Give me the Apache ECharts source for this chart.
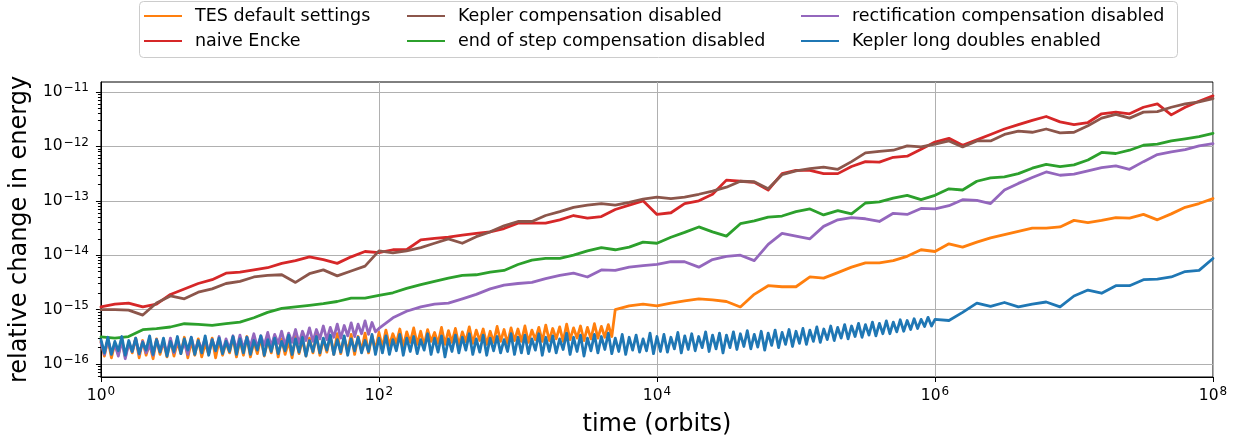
<!DOCTYPE html>
<html>
<head>
<meta charset="utf-8">
<script src="https://cdn.jsdelivr.net/npm/echarts@6/dist/echarts.min.js"></script>
<style>
html,body{margin:0;padding:0;background:#fff;}
#c{width:1241px;height:444px;}
</style>
</head>
<body>
<div id="c"></div>
<script>
// time (orbits), coarse samples every 0.1 decade
const timeOrbits = [
  1, 1.26, 1.58, 2, 2.51, 3.16, 3.98, 5.01, 6.31, 7.94,
  10, 12.6, 15.8, 20, 25.1, 31.6, 39.8, 50.1, 63.1, 79.4,
  100, 126, 158, 200, 251, 316, 398, 501, 631, 794,
  1e3, 1.26e3, 1.58e3, 2e3, 2.51e3, 3.16e3, 3.98e3, 5.01e3, 6.31e3, 7.94e3,
  1e4, 1.26e4, 1.58e4, 2e4, 2.51e4, 3.16e4, 3.98e4, 5.01e4, 6.31e4, 7.94e4,
  1e5, 1.26e5, 1.58e5, 2e5, 2.51e5, 3.16e5, 3.98e5, 5.01e5, 6.31e5, 7.94e5,
  1e6, 1.26e6, 1.58e6, 2e6, 2.51e6, 3.16e6, 3.98e6, 5.01e6, 6.31e6, 7.94e6,
  1e7, 1.26e7, 1.58e7, 2e7, 2.51e7, 3.16e7, 3.98e7, 5.01e7, 6.31e7, 7.94e7,
  1e8
];

// time (orbits), fine samples every 0.025 decade (for the noisy bands), 1 .. 1e6
const timeFine = [
  1e0,1.059e0,1.122e0,1.189e0,1.259e0,1.334e0,1.413e0,1.496e0,1.585e0,1.679e0,1.778e0,1.884e0,1.995e0,2.113e0,2.239e0,2.371e0,2.512e0,2.661e0,2.818e0,2.985e0,3.162e0,3.350e0,3.548e0,3.758e0,3.981e0,4.217e0,4.467e0,4.732e0,5.012e0,5.309e0,5.623e0,5.957e0,6.310e0,6.683e0,7.079e0,7.499e0,7.943e0,8.414e0,8.913e0,9.441e0,
  1e1,1.059e1,1.122e1,1.189e1,1.259e1,1.334e1,1.413e1,1.496e1,1.585e1,1.679e1,1.778e1,1.884e1,1.995e1,2.113e1,2.239e1,2.371e1,2.512e1,2.661e1,2.818e1,2.985e1,3.162e1,3.350e1,3.548e1,3.758e1,3.981e1,4.217e1,4.467e1,4.732e1,5.012e1,5.309e1,5.623e1,5.957e1,6.310e1,6.683e1,7.079e1,7.499e1,7.943e1,8.414e1,8.913e1,9.441e1,
  1e2,1.059e2,1.122e2,1.189e2,1.259e2,1.334e2,1.413e2,1.496e2,1.585e2,1.679e2,1.778e2,1.884e2,1.995e2,2.113e2,2.239e2,2.371e2,2.512e2,2.661e2,2.818e2,2.985e2,3.162e2,3.350e2,3.548e2,3.758e2,3.981e2,4.217e2,4.467e2,4.732e2,5.012e2,5.309e2,5.623e2,5.957e2,6.310e2,6.683e2,7.079e2,7.499e2,7.943e2,8.414e2,8.913e2,9.441e2,
  1e3,1.059e3,1.122e3,1.189e3,1.259e3,1.334e3,1.413e3,1.496e3,1.585e3,1.679e3,1.778e3,1.884e3,1.995e3,2.113e3,2.239e3,2.371e3,2.512e3,2.661e3,2.818e3,2.985e3,3.162e3,3.350e3,3.548e3,3.758e3,3.981e3,4.217e3,4.467e3,4.732e3,5.012e3,5.309e3,5.623e3,5.957e3,6.310e3,6.683e3,7.079e3,7.499e3,7.943e3,8.414e3,8.913e3,9.441e3,
  1e4,1.059e4,1.122e4,1.189e4,1.259e4,1.334e4,1.413e4,1.496e4,1.585e4,1.679e4,1.778e4,1.884e4,1.995e4,2.113e4,2.239e4,2.371e4,2.512e4,2.661e4,2.818e4,2.985e4,3.162e4,3.350e4,3.548e4,3.758e4,3.981e4,4.217e4,4.467e4,4.732e4,5.012e4,5.309e4,5.623e4,5.957e4,6.310e4,6.683e4,7.079e4,7.499e4,7.943e4,8.414e4,8.913e4,9.441e4,
  1e5,1.059e5,1.122e5,1.189e5,1.259e5,1.334e5,1.413e5,1.496e5,1.585e5,1.679e5,1.778e5,1.884e5,1.995e5,2.113e5,2.239e5,2.371e5,2.512e5,2.661e5,2.818e5,2.985e5,3.162e5,3.350e5,3.548e5,3.758e5,3.981e5,4.217e5,4.467e5,4.732e5,5.012e5,5.309e5,5.623e5,5.957e5,6.310e5,6.683e5,7.079e5,7.499e5,7.943e5,8.414e5,8.913e5,9.441e5,
  1e6
];

// ---- TES default settings (orange) ----
const tesDefaultFine = [ // on timeFine, 1 .. 10^3.675
  2.6e-16,1.4e-16,2.9e-16,1.3e-16,2.4e-16,1.5e-16,2.8e-16,1.35e-16,2.5e-16,1.6e-16,3.0e-16,1.3e-16,2.7e-16,1.45e-16,2.4e-16,1.25e-16,2.9e-16,1.5e-16,2.6e-16,1.35e-16,
  2.8e-16,1.4e-16,2.5e-16,1.55e-16,3.1e-16,1.3e-16,2.6e-16,1.45e-16,2.9e-16,1.35e-16,2.4e-16,1.5e-16,3.0e-16,1.3e-16,2.7e-16,1.45e-16,2.5e-16,1.6e-16,3.1e-16,1.35e-16,
  2.8e-16,1.45e-16,3.2e-16,1.35e-16,2.6e-16,1.55e-16,3.0e-16,1.4e-16,2.7e-16,1.6e-16,3.3e-16,1.35e-16,2.9e-16,1.5e-16,2.6e-16,1.3e-16,3.2e-16,1.55e-16,2.8e-16,1.4e-16,
  3.0e-16,1.6e-16,3.4e-16,1.45e-16,2.9e-16,1.65e-16,3.3e-16,1.5e-16,3.6e-16,1.55e-16,3.1e-16,1.7e-16,3.5e-16,1.5e-16,3.2e-16,1.75e-16,3.7e-16,1.6e-16,3.3e-16,1.8e-16,
  3.8e-16,2.0e-16,4.2e-16,2.2e-16,3.6e-16,2.4e-16,4.4e-16,2.1e-16,3.9e-16,2.5e-16,4.6e-16,2.3e-16,4.0e-16,2.2e-16,4.3e-16,2.6e-16,3.8e-16,2.4e-16,4.7e-16,2.3e-16,
  4.1e-16,2.5e-16,4.5e-16,2.2e-16,3.9e-16,2.6e-16,4.8e-16,2.4e-16,4.2e-16,2.7e-16,4.4e-16,2.3e-16,4.0e-16,2.5e-16,4.9e-16,2.6e-16,4.3e-16,2.4e-16,4.6e-16,2.7e-16,
  4.4e-16,2.6e-16,5.0e-16,2.5e-16,4.2e-16,2.8e-16,4.7e-16,2.6e-16,5.2e-16,2.7e-16,4.5e-16,2.9e-16,4.8e-16,2.6e-16,5.4e-16,2.8e-16,4.6e-16,3.0e-16,5.0e-16,2.7e-16,
  4.7e-16,2.9e-16,5.5e-16,3.0e-16,4.9e-16,3.1e-16,5.3e-16,3.2e-16
];
const tesDefault = [ // on timeOrbits (null where the fine samples are used)
  null, null, null, null, null, null, null, null, null, null,
  null, null, null, null, null, null, null, null, null, null,
  null, null, null, null, null, null, null, null, null, null,
  null, null, null, null, null, null, null, 1.00e-15, 1.17e-15, 1.26e-15,
  1.17e-15, 1.32e-15, 1.45e-15, 1.58e-15, 1.51e-15, 1.41e-15, 1.12e-15, 1.91e-15, 2.75e-15, 2.63e-15,
  2.63e-15, 3.98e-15, 3.80e-15, 4.79e-15, 6.03e-15, 7.24e-15, 7.24e-15, 7.94e-15, 9.55e-15, 1.26e-14,
  1.17e-14, 1.62e-14, 1.41e-14, 1.74e-14, 2.09e-14, 2.40e-14, 2.75e-14, 3.16e-14, 3.16e-14, 3.31e-14,
  4.37e-14, 3.98e-14, 4.37e-14, 4.90e-14, 4.79e-14, 5.62e-14, 4.47e-14, 5.75e-14, 7.59e-14, 8.91e-14,
  1.10e-13
];

// ---- naive Encke (red) ----
const naiveEncke = [
  1.12e-15, 1.26e-15, 1.32e-15, 1.12e-15, 1.26e-15, 1.90e-15, 2.40e-15, 3.02e-15, 3.55e-15, 4.68e-15,
  4.90e-15, 5.37e-15, 5.89e-15, 7.08e-15, 7.94e-15, 9.33e-15, 8.32e-15, 7.08e-15, 9.33e-15, 1.17e-14,
  1.12e-14, 1.26e-14, 1.26e-14, 1.91e-14, 2.04e-14, 2.14e-14, 2.34e-14, 2.51e-14, 2.69e-14, 3.09e-14,
  3.89e-14, 3.89e-14, 3.89e-14, 4.47e-14, 5.37e-14, 4.79e-14, 5.13e-14, 6.92e-14, 8.32e-14, 1.00e-13,
  5.62e-14, 6.03e-14, 8.91e-14, 1.00e-13, 1.32e-13, 2.40e-13, 2.29e-13, 2.19e-13, 1.58e-13, 3.16e-13,
  3.63e-13, 3.63e-13, 3.16e-13, 3.16e-13, 4.27e-13, 5.25e-13, 5.13e-13, 6.31e-13, 6.61e-13, 8.91e-13,
  1.20e-12, 1.41e-12, 1.05e-12, 1.32e-12, 1.66e-12, 2.09e-12, 2.51e-12, 3.02e-12, 3.55e-12, 2.82e-12,
  2.51e-12, 2.75e-12, 3.98e-12, 4.27e-12, 3.98e-12, 5.25e-12, 6.03e-12, 3.80e-12, 5.25e-12, 6.76e-12,
  8.51e-12
];

// ---- Kepler compensation disabled (brown) ----
const keplerCompDisabled = [
  1.00e-15, 1.00e-15, 9.80e-16, 7.94e-16, 1.32e-15, 1.78e-15, 1.58e-15, 2.09e-15, 2.40e-15, 3.02e-15,
  3.31e-15, 3.98e-15, 4.27e-15, 4.37e-15, 3.16e-15, 4.57e-15, 5.37e-15, 4.17e-15, 5.13e-15, 6.31e-15,
  1.20e-14, 1.10e-14, 1.20e-14, 1.38e-14, 1.66e-14, 2.00e-14, 1.66e-14, 2.19e-14, 2.69e-14, 3.47e-14,
  4.17e-14, 4.17e-14, 5.37e-14, 6.31e-14, 7.59e-14, 8.32e-14, 8.91e-14, 8.32e-14, 9.33e-14, 1.07e-13,
  1.17e-13, 1.10e-13, 1.17e-13, 1.32e-13, 1.51e-13, 1.78e-13, 2.29e-13, 2.24e-13, 1.66e-13, 3.02e-13,
  3.55e-13, 3.89e-13, 4.17e-13, 3.80e-13, 5.25e-13, 7.59e-13, 8.13e-13, 8.51e-13, 1.02e-12, 9.77e-13,
  1.10e-12, 1.26e-12, 9.77e-13, 1.26e-12, 1.26e-12, 1.66e-12, 1.91e-12, 1.82e-12, 2.09e-12, 1.78e-12,
  1.82e-12, 2.40e-12, 3.31e-12, 3.89e-12, 3.31e-12, 4.27e-12, 4.37e-12, 5.25e-12, 6.03e-12, 6.61e-12,
  7.59e-12
];

// ---- end of step compensation disabled (green) ----
const endOfStepCompDisabled = [
  3.16e-16, 3.00e-16, 3.20e-16, 4.27e-16, 4.47e-16, 4.79e-16, 5.50e-16, 5.37e-16, 5.13e-16, 5.50e-16,
  5.89e-16, 7.08e-16, 8.91e-16, 1.05e-15, 1.12e-15, 1.20e-15, 1.29e-15, 1.41e-15, 1.62e-15, 1.62e-15,
  1.82e-15, 2.04e-15, 2.45e-15, 2.88e-15, 3.31e-15, 3.80e-15, 4.27e-15, 4.37e-15, 4.90e-15, 5.25e-15,
  6.76e-15, 8.13e-15, 8.71e-15, 8.71e-15, 1.00e-14, 1.20e-14, 1.38e-14, 1.26e-14, 1.41e-14, 1.74e-14,
  1.66e-14, 2.14e-14, 2.63e-14, 3.31e-14, 2.69e-14, 2.24e-14, 3.80e-14, 4.27e-14, 5.01e-14, 5.25e-14,
  6.31e-14, 7.08e-14, 5.50e-14, 6.61e-14, 5.75e-14, 9.12e-14, 9.55e-14, 1.12e-13, 1.26e-13, 1.05e-13,
  1.26e-13, 1.66e-13, 1.58e-13, 2.29e-13, 2.63e-13, 2.75e-13, 3.16e-13, 3.98e-13, 4.68e-13, 4.27e-13,
  4.57e-13, 5.62e-13, 7.76e-13, 7.41e-13, 8.51e-13, 1.05e-12, 1.10e-12, 1.26e-12, 1.38e-12, 1.51e-12,
  1.74e-12
];

// ---- rectification compensation disabled (purple) ----
const rectCompDisabledFine = [ // on timeFine, 1 .. 100
  2.5e-16,1.5e-16,2.8e-16,1.6e-16,2.3e-16,1.4e-16,2.7e-16,1.25e-16,2.4e-16,1.7e-16,2.9e-16,1.5e-16,2.6e-16,1.6e-16,2.2e-16,1.45e-16,2.8e-16,1.7e-16,2.5e-16,1.55e-16,
  3.0e-16,1.6e-16,2.7e-16,1.8e-16,2.4e-16,1.5e-16,3.1e-16,1.7e-16,2.6e-16,1.9e-16,3.0e-16,1.6e-16,2.8e-16,1.75e-16,3.2e-16,1.65e-16,2.9e-16,1.9e-16,3.3e-16,1.8e-16,
  3.4e-16,1.9e-16,3.1e-16,2.1e-16,3.6e-16,2.0e-16,3.3e-16,2.2e-16,3.8e-16,2.1e-16,3.5e-16,2.4e-16,4.0e-16,2.2e-16,3.7e-16,2.5e-16,4.3e-16,2.4e-16,4.0e-16,2.7e-16,
  4.6e-16,2.6e-16,4.3e-16,2.9e-16,5.0e-16,2.8e-16,4.7e-16,3.1e-16,5.4e-16,3.0e-16,5.1e-16,3.3e-16,5.7e-16,3.2e-16,5.4e-16,3.6e-16,6.2e-16,3.5e-16,5.8e-16,3.9e-16,
  4.5e-16
];
const rectCompDisabled = [ // on timeOrbits
  null, null, null, null, null, null, null, null, null, null,
  null, null, null, null, null, null, null, null, null, null,
  null, 7.08e-16, 9.33e-16, 1.12e-15, 1.26e-15, 1.32e-15, 1.58e-15, 1.91e-15, 2.40e-15, 2.82e-15,
  3.02e-15, 3.16e-15, 3.72e-15, 4.27e-15, 4.68e-15, 3.98e-15, 5.37e-15, 5.25e-15, 6.03e-15, 6.46e-15,
  6.76e-15, 7.59e-15, 7.59e-15, 6.03e-15, 8.32e-15, 9.55e-15, 1.00e-14, 7.94e-15, 1.58e-14, 2.51e-14,
  2.24e-14, 2.00e-14, 3.39e-14, 4.47e-14, 4.90e-14, 4.68e-14, 4.17e-14, 5.89e-14, 5.62e-14, 7.24e-14,
  7.08e-14, 8.13e-14, 1.05e-13, 1.02e-13, 8.91e-14, 1.58e-13, 2.09e-13, 2.69e-13, 3.39e-13, 2.95e-13,
  3.09e-13, 3.55e-13, 4.07e-13, 4.37e-13, 3.80e-13, 5.25e-13, 7.08e-13, 7.94e-13, 8.71e-13, 1.02e-12,
  1.12e-12
];

// ---- Kepler long doubles enabled (blue) ----
const keplerLongDoublesFine = [ // on timeFine, 1 .. 1e6
  2.8e-16,1.6e-16,3.1e-16,1.5e-16,2.6e-16,1.75e-16,3.2e-16,1.45e-16,2.7e-16,1.7e-16,3.0e-16,1.55e-16,2.5e-16,1.8e-16,3.3e-16,1.5e-16,2.8e-16,1.65e-16,3.0e-16,1.4e-16,
  2.6e-16,1.7e-16,3.2e-16,1.55e-16,2.9e-16,1.8e-16,3.1e-16,1.5e-16,2.7e-16,1.6e-16,3.3e-16,1.45e-16,2.8e-16,1.75e-16,3.0e-16,1.55e-16,2.6e-16,1.7e-16,3.2e-16,1.5e-16,
  2.9e-16,1.6e-16,3.1e-16,1.5e-16,2.7e-16,1.8e-16,3.3e-16,1.45e-16,2.8e-16,1.7e-16,3.0e-16,1.55e-16,2.6e-16,1.75e-16,3.4e-16,1.5e-16,2.9e-16,1.65e-16,3.1e-16,1.4e-16,
  2.7e-16,1.7e-16,3.2e-16,1.6e-16,3.0e-16,1.8e-16,3.4e-16,1.5e-16,2.8e-16,1.65e-16,3.3e-16,1.45e-16,2.9e-16,1.75e-16,3.1e-16,1.6e-16,2.7e-16,1.7e-16,3.5e-16,1.5e-16,
  3.0e-16,1.6e-16,3.3e-16,1.5e-16,2.8e-16,1.75e-16,3.5e-16,1.45e-16,3.0e-16,1.7e-16,3.2e-16,1.55e-16,2.8e-16,1.8e-16,3.6e-16,1.5e-16,3.0e-16,1.65e-16,3.3e-16,1.35e-16,
  2.9e-16,1.7e-16,3.4e-16,1.6e-16,3.1e-16,1.8e-16,3.6e-16,1.5e-16,2.9e-16,1.65e-16,3.4e-16,1.45e-16,3.0e-16,1.75e-16,3.2e-16,1.6e-16,2.8e-16,1.7e-16,3.6e-16,1.5e-16,
  3.1e-16,1.6e-16,3.4e-16,1.55e-16,2.9e-16,1.8e-16,3.6e-16,1.45e-16,3.1e-16,1.7e-16,3.3e-16,1.6e-16,2.9e-16,1.85e-16,3.7e-16,1.5e-16,3.1e-16,1.7e-16,3.4e-16,1.4e-16,
  3.0e-16,1.75e-16,3.5e-16,1.6e-16,3.2e-16,1.85e-16,3.7e-16,1.55e-16,3.0e-16,1.7e-16,3.5e-16,1.5e-16,3.1e-16,1.8e-16,3.4e-16,1.65e-16,2.9e-16,1.75e-16,3.7e-16,1.55e-16,
  3.2e-16,1.7e-16,3.5e-16,1.65e-16,3.1e-16,1.9e-16,3.8e-16,1.6e-16,3.3e-16,1.85e-16,3.6e-16,1.75e-16,3.2e-16,2.0e-16,3.9e-16,1.7e-16,3.4e-16,1.9e-16,3.7e-16,1.6e-16,
  3.4e-16,2.0e-16,3.9e-16,1.85e-16,3.6e-16,2.1e-16,4.1e-16,1.9e-16,3.5e-16,2.05e-16,4.0e-16,1.8e-16,3.7e-16,2.2e-16,4.2e-16,2.0e-16,3.8e-16,2.3e-16,4.3e-16,2.1e-16,
  4.0e-16,2.4e-16,4.5e-16,2.3e-16,4.2e-16,2.6e-16,4.8e-16,2.5e-16,4.4e-16,2.8e-16,5.0e-16,2.7e-16,4.7e-16,3.0e-16,5.3e-16,2.9e-16,5.0e-16,3.2e-16,5.6e-16,3.1e-16,
  5.3e-16,3.4e-16,5.9e-16,3.3e-16,5.6e-16,3.6e-16,6.2e-16,3.6e-16,5.9e-16,3.9e-16,6.5e-16,4.0e-16,6.3e-16,4.3e-16,6.8e-16,4.5e-16,6.6e-16,4.9e-16,7.2e-16,5.0e-16,
  6.6e-16
];
const keplerLongDoubles = [ // on timeOrbits
  null, null, null, null, null, null, null, null, null, null,
  null, null, null, null, null, null, null, null, null, null,
  null, null, null, null, null, null, null, null, null, null,
  null, null, null, null, null, null, null, null, null, null,
  null, null, null, null, null, null, null, null, null, null,
  null, null, null, null, null, null, null, null, null, null,
  null, 6.31e-16, 8.91e-16, 1.32e-15, 1.15e-15, 1.35e-15, 1.12e-15, 1.26e-15, 1.38e-15, 1.12e-15,
  1.78e-15, 2.29e-15, 2.00e-15, 2.75e-15, 2.75e-15, 3.55e-15, 3.63e-15, 3.98e-15, 5.01e-15, 5.25e-15,
  8.71e-15
];

const seriesNames = [
  'TES default settings',
  'naive Encke',
  'Kepler compensation disabled',
  'end of step compensation disabled',
  'rectification compensation disabled',
  'Kepler long doubles enabled'
];
const seriesFine = [tesDefaultFine, [], [], [], rectCompDisabledFine, keplerLongDoublesFine];
const seriesCoarse = [tesDefault, naiveEncke, keplerCompDisabled, endOfStepCompDisabled, rectCompDisabled, keplerLongDoubles];
const seriesColors = ['#ff7f0e', '#d62728', '#8c564b', '#2ca02c', '#9467bd', '#1f77b4'];

const xTickValues = [1, 1e2, 1e4, 1e6, 1e8];
const yTickValues = [1e-16, 1e-15, 1e-14, 1e-13, 1e-12, 1e-11];
const yMinorTickValues = [
  6e-17, 7e-17, 8e-17, 9e-17,
  2e-16, 3e-16, 4e-16, 5e-16, 6e-16, 7e-16, 8e-16, 9e-16,
  2e-15, 3e-15, 4e-15, 5e-15, 6e-15, 7e-15, 8e-15, 9e-15,
  2e-14, 3e-14, 4e-14, 5e-14, 6e-14, 7e-14, 8e-14, 9e-14,
  2e-13, 3e-13, 4e-13, 5e-13, 6e-13, 7e-13, 8e-13, 9e-13,
  2e-12, 3e-12, 4e-12, 5e-12, 6e-12, 7e-12, 8e-12, 9e-12
];
const yMin = 5.77e-17, yMax = 1.528e-11;

const FONT = 'DejaVu Sans';
function powLabel(v) {
  const e = Math.round(Math.log10(v));
  const s = e < 0 ? '\u2212' + (-e) : String(e);
  return '{n|10}{s|' + s + '}';
}
const powRich = {
  n: { fontSize: 15.5, fontFamily: FONT, color: '#000' },
  s: { fontSize: 12, fontFamily: FONT, color: '#000', padding: [0, 0, 8, 1] }
};

const chart = echarts.init(document.getElementById('c'), null, { renderer: 'canvas' });

const series = seriesNames.map((name, i) => {
  const pts = seriesFine[i].map((v, k) => [timeFine[k], v]);
  seriesCoarse[i].forEach((v, k) => { if (v !== null) pts.push([timeOrbits[k], v]); });
  return {
    name: name,
    type: 'line',
    showSymbol: false,
    symbol: 'none',
    animation: false,
    sampling: 'none',
    data: pts,
    lineStyle: { color: seriesColors[i], width: 2.8, join: 'round', cap: 'round' },
    itemStyle: { color: seriesColors[i] },
    emphasis: { disabled: true }
  };
});

function legendFor(names, left) {
  return {
    orient: 'vertical',
    left: left,
    top: 6,
    padding: 0,
    itemGap: 5,
    itemWidth: 38,
    itemHeight: 2,
    icon: 'rect',
    data: names,
    selectedMode: false,
    textStyle: { fontFamily: FONT, fontSize: 17.5, color: '#000', lineHeight: 20, padding: [0, 0, 0, 8] }
  };
}

chart.setOption({
  animation: false,
  backgroundColor: '#fff',
  graphic: [{
    type: 'rect',
    shape: { x: 139.5, y: 1.5, width: 1038, height: 56, r: 4 },
    style: { fill: '#fff', stroke: '#cccccc', lineWidth: 1 },
    z: -1
  }],
  legend: [
    legendFor([seriesNames[0], seriesNames[1]], 144),
    legendFor([seriesNames[2], seriesNames[3]], 407),
    legendFor([seriesNames[4], seriesNames[5]], 801)
  ],
  grid: {
    left: 100, right: 28, top: 82, bottom: 67,
    show: true, borderColor: '#000', borderWidth: 1, backgroundColor: 'transparent'
  },
  xAxis: {
    type: 'log',
    logBase: 10,
    min: 1,
    max: 1e8,
    name: 'time (orbits)',
    nameLocation: 'middle',
    nameGap: 36,
    nameTextStyle: { fontFamily: FONT, fontSize: 24, color: '#000' },
    axisLine: { show: true, lineStyle: { color: '#000', width: 1 } },
    axisTick: { show: true, length: 5, inside: false, customValues: xTickValues, lineStyle: { color: '#000' } },
    axisLabel: { customValues: xTickValues, formatter: powLabel, rich: powRich, margin: 9 },
    splitLine: { show: true, lineStyle: { color: '#b0b0b0', width: 1 } },
    minorTick: { show: false },
    minorSplitLine: { show: false }
  },
  yAxis: [{
    type: 'log',
    logBase: 10,
    min: yMin,
    max: yMax,
    name: 'relative change in energy',
    nameLocation: 'middle',
    nameGap: 64,
    nameTextStyle: { fontFamily: FONT, fontSize: 24, color: '#000' },
    axisLine: { show: true, lineStyle: { color: '#000', width: 1 } },
    axisTick: { show: true, length: 5, inside: false, customValues: yTickValues, lineStyle: { color: '#000' } },
    axisLabel: { customValues: yTickValues, formatter: powLabel, rich: powRich, margin: 12 },
    splitLine: { show: true, lineStyle: { color: '#b0b0b0', width: 1 } }
  }, {
    type: 'log',
    logBase: 10,
    min: yMin,
    max: yMax,
    position: 'left',
    axisLine: { show: false },
    axisTick: { show: true, length: 3, inside: false, customValues: yMinorTickValues, lineStyle: { color: '#000' } },
    axisLabel: { show: false },
    splitLine: { show: false }
  }],
  series: series
});
</script>
</body>
</html>
